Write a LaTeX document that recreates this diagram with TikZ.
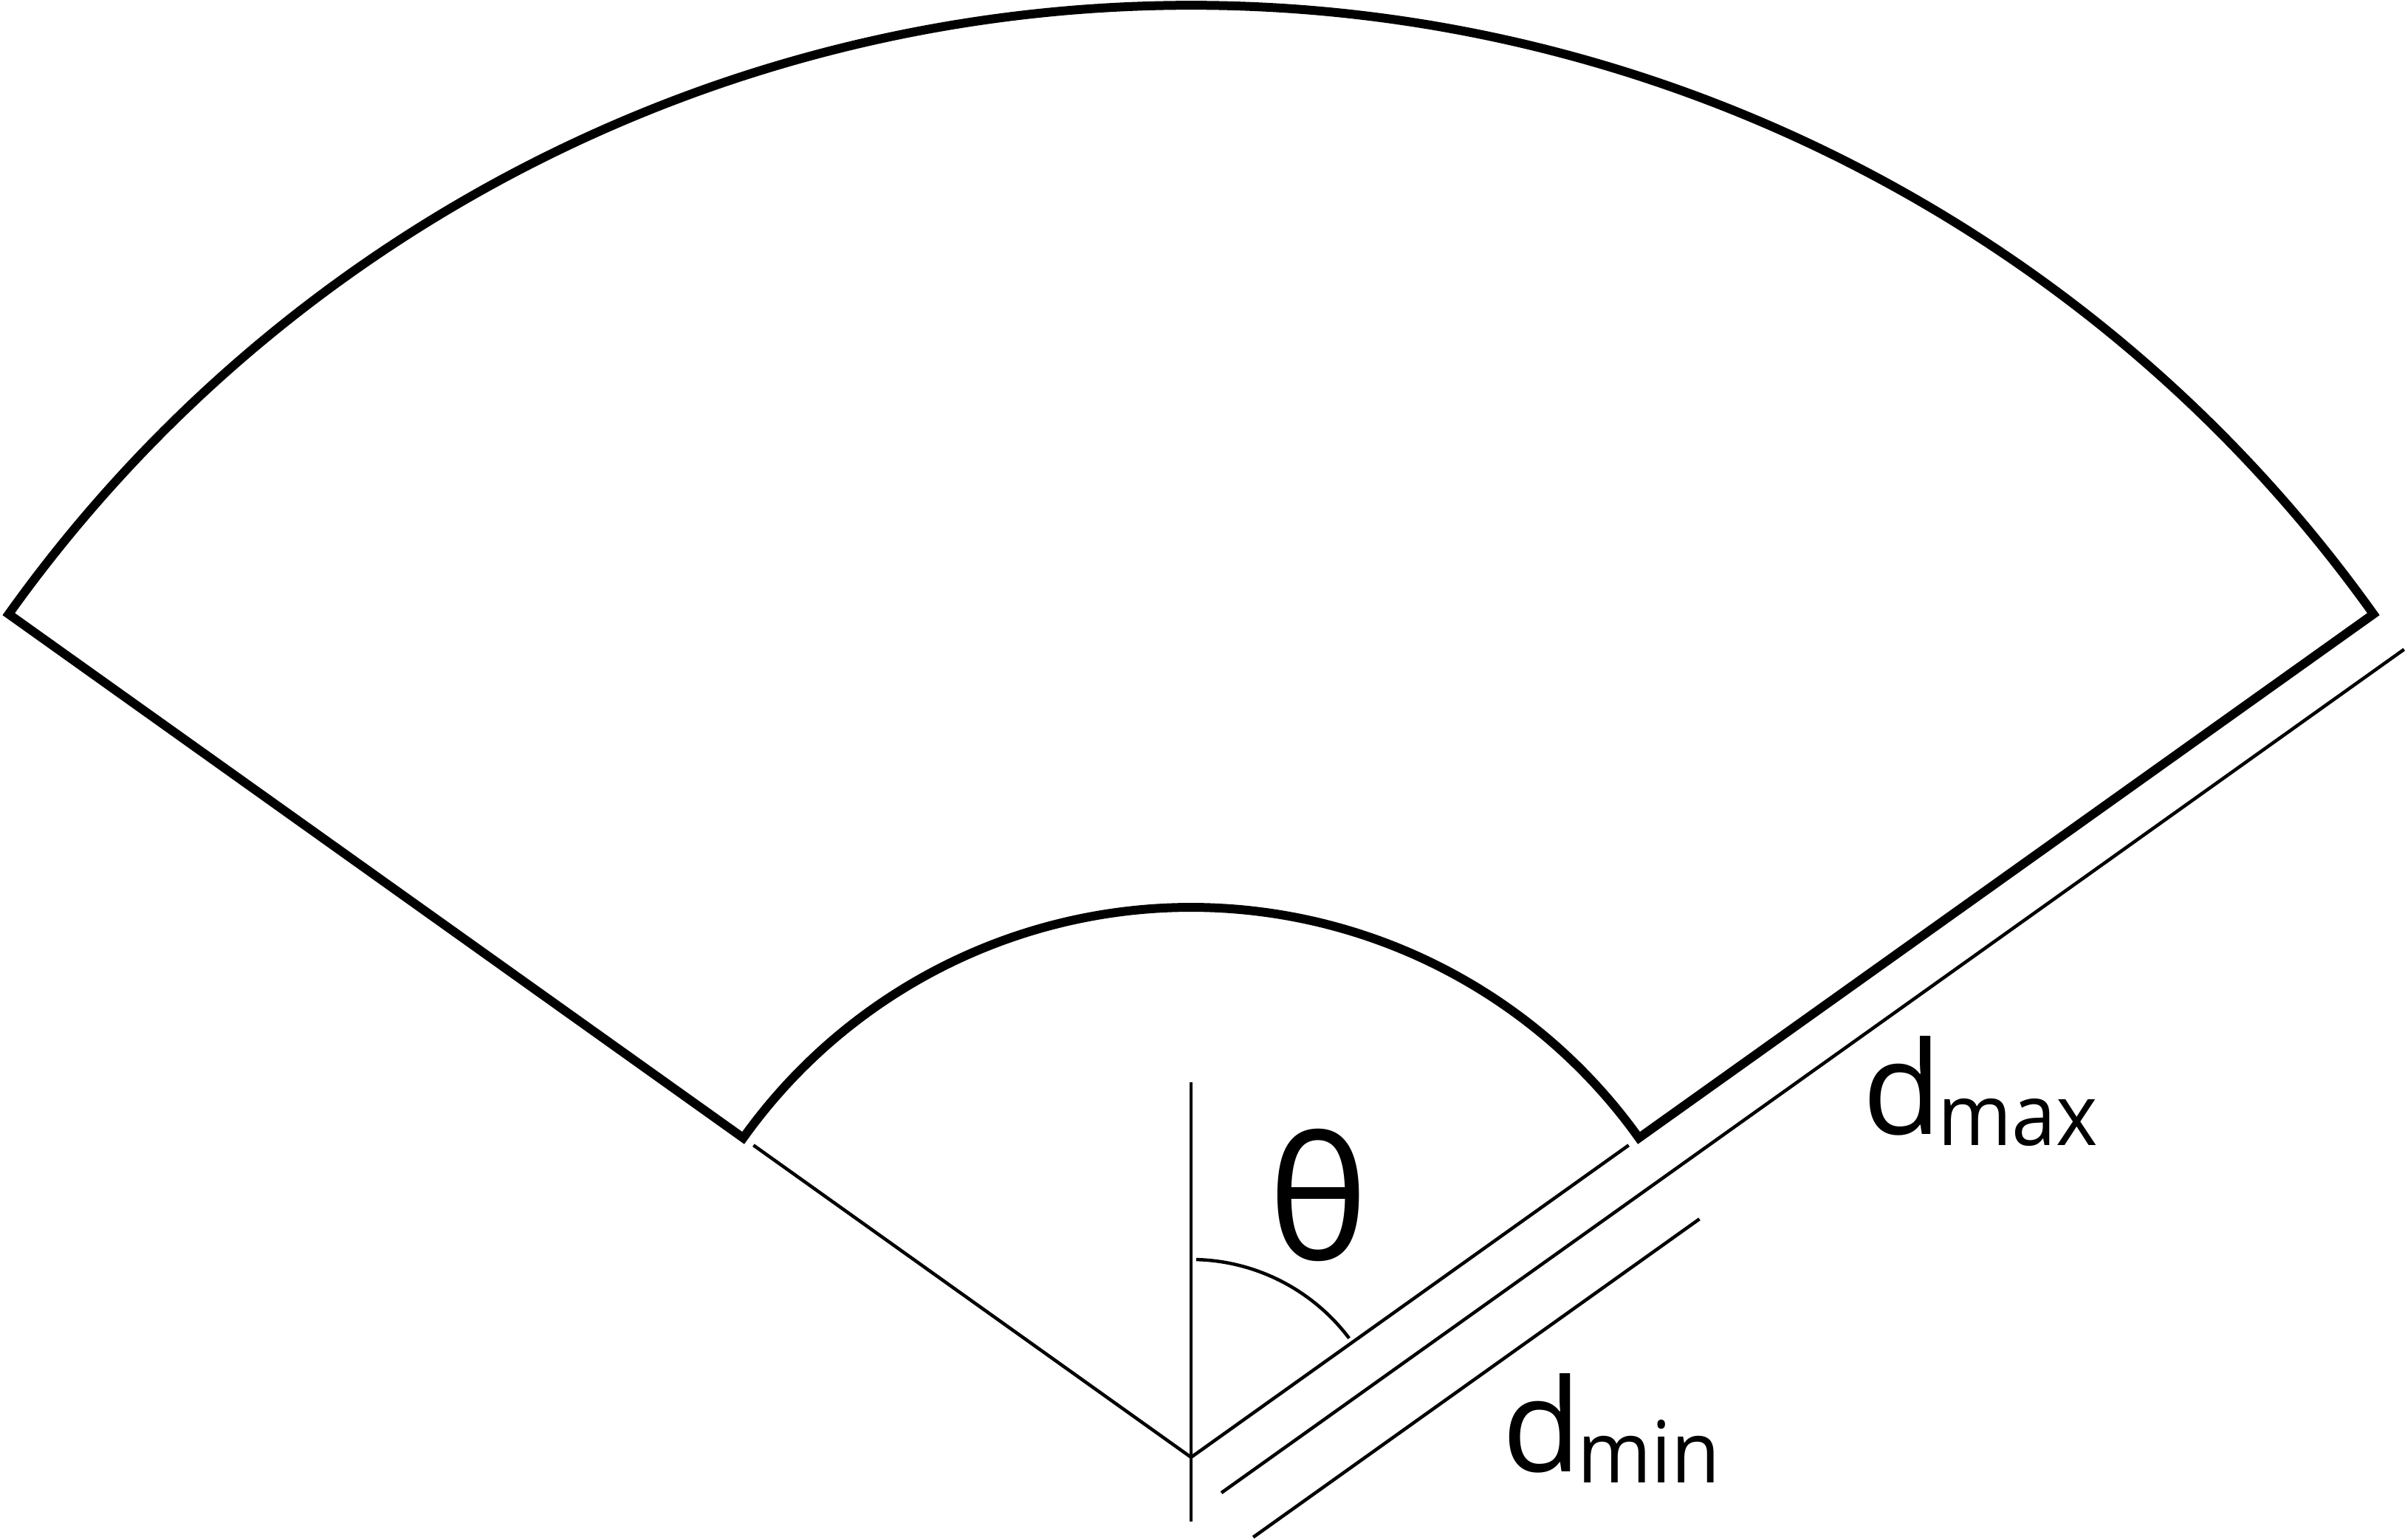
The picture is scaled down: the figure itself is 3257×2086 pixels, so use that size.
\documentclass[tikz,border=0pt]{standalone}
\usepackage{fontspec}
\setmainfont{Open Sans}
\usetikzlibrary{calc}
\tikzset{
  outline/.style={line width=1.2pt, line join=miter, draw=black},
  thinline/.style={line width=0.45pt, draw=black},
  biglabel/.style={inner sep=0pt, outer sep=0pt, anchor=base west},
}
\newcommand{\subtxt}[1]{\raisebox{-1.5pt}{\scalebox{0.93}[1]{\fontsize{11.6pt}{14pt}\selectfont #1}}}
\begin{document}
\begin{tikzpicture}[x=0.1pt,y=0.1pt]
\useasboundingbox (0,0) rectangle (3257,2086);
\coordinate (A) at (1613,112);
% sector outline
\draw[outline] ([shift={(35.5:74.5pt)}]A) coordinate (iR)
  -- ([shift={(35.5:196.7pt)}]A) coordinate (oR)
  arc[start angle=35.5, end angle=144.5, radius=196.7pt] coordinate (oL)
  -- ([shift={(144.5:74.5pt)}]A) coordinate (iL)
  arc[start angle=144.5, end angle=35.5, radius=74.5pt] -- cycle;
% thin radial lines
\coordinate (tL) at ([shift={(144.5:72.8pt)}]A);
\coordinate (tR) at ([shift={(35.5:72.8pt)}]A);
\draw[thinline] (tL) -- (A) -- (tR);
% vertical axis
\coordinate (vT) at (1613,620);
\coordinate (vB) at (1613,25);
\draw[thinline] (vT) -- (vB);
% angle arc
\draw[thinline] ([shift={(88.5:26.8pt)}]A) coordinate (aS)
  arc[start angle=88.5, end angle=37, radius=26.8pt] coordinate (aE);
% dimension lines
\coordinate (maxS) at ($(A)+(-54.5:6.3pt)+(35.5:0.55pt)$);
\coordinate (maxE) at ($(A)+(-54.5:6.3pt)+(35.5:197.3pt)$);
\draw[thinline] (maxS) -- (maxE);
\coordinate (minS) at ($(A)+(-54.5:13.7pt)+(35.5:0.57pt)$);
\coordinate (minE) at ($(A)+(-54.5:13.7pt)+(35.5:74.8pt)$);
\draw[thinline] (minS) -- (minE);
% labels
\node[inner sep=0pt, anchor=base] (theta) at (1786,379) {\fontsize{23pt}{28pt}\selectfont θ};
\node[biglabel] (dmax) at (2522,549) {\fontsize{17.5pt}{20pt}\selectfont d\kern-0.5pt\subtxt{max}};
\node[biglabel] (dmin) at (2034,92) {\fontsize{17.5pt}{20pt}\selectfont d\kern-0.5pt\subtxt{min}};
\end{tikzpicture}
\end{document}
